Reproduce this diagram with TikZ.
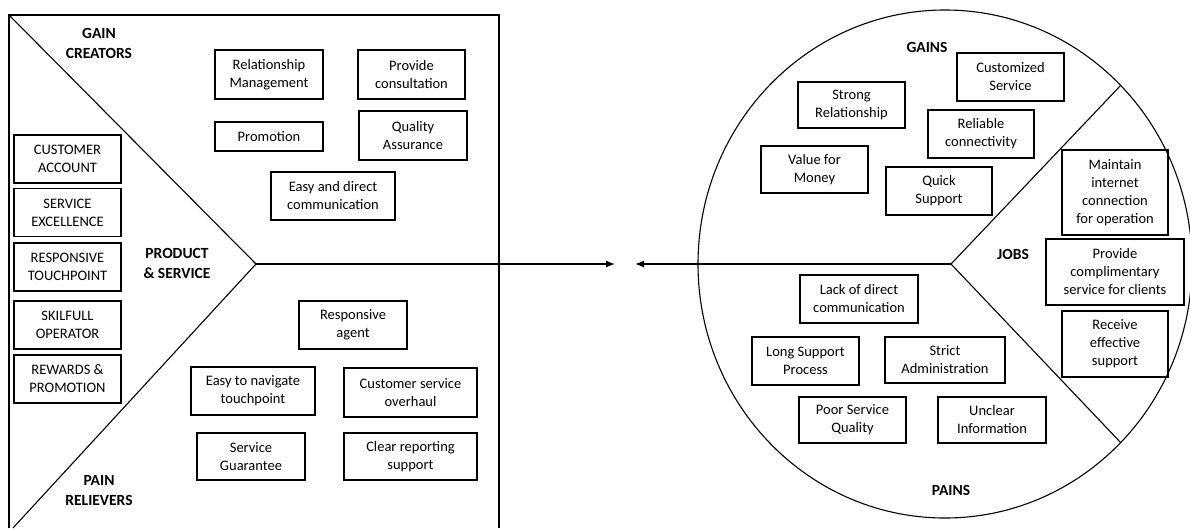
\documentclass[tikz,border=0pt]{standalone}
\usepackage{fontspec}
\setmainfont{Carlito}
\usetikzlibrary{arrows.meta,shapes.geometric}
\begin{document}
\begin{tikzpicture}[x=1pt,y=-1pt,
  line width=1.1pt,
  box/.style={draw, align=center, inner sep=1pt, line width=1.1pt,
    font=\fontsize{14.5}{18}\selectfont},
  lbl/.style={align=center, inner sep=0pt, font=\fontsize{15.5}{20}\selectfont\bfseries},
  arr/.style={-{Latex[length=9pt,width=7pt]}, line width=1.3pt}]
\useasboundingbox (0,0) rectangle (1190,528);
% value map frame
\coordinate (tl) at (9,15);
\coordinate (tr) at (499,15);
\coordinate (bl) at (9,528);
\coordinate (br) at (499,528);
\coordinate (v) at (256,264);
\coordinate (lb) at (13,528);
\draw (bl) -- (tl) -- (tr) -- (br);
\draw (tl) -- (v) -- (lb);
\coordinate (tipA) at (615,264);
\draw[arr] (v) -- (tipA);
% labels
\node[lbl] (gc) at (99,43) {GAIN\\CREATORS};
\node[lbl] (ps) at (177,263) {PRODUCT\\\& SERVICE};
\node[lbl] (pr) at (99,491) {PAIN\\RELIEVERS};
% products
\node[box, minimum width=107, minimum height=48] (p1) at (67.5,159) {CUSTOMER\\ACCOUNT};
\node[box, minimum width=107, minimum height=48] (p2) at (67.5,212.5) {SERVICE\\EXCELLENCE};
\node[box, minimum width=107, minimum height=48] (p3) at (67.5,267) {RESPONSIVE\\TOUCHPOINT};
\node[box, minimum width=107, minimum height=48] (p4) at (67.5,325) {SKILFULL\\OPERATOR};
\node[box, minimum width=107, minimum height=48] (p5) at (67.5,379) {REWARDS \&\\PROMOTION};
% gain creators
\node[box, minimum width=108, minimum height=49] (g1) at (269,74.5) {Relationship\\Management};
\node[box, minimum width=107, minimum height=49] (g2) at (411.5,74.5) {Provide\\consultation};
\node[box, minimum width=108, minimum height=29] (g3) at (269,136.5) {Promotion};
\node[box, minimum width=108, minimum height=49] (g4) at (413,135.5) {Quality\\Assurance};
\node[box, minimum width=124, minimum height=48] (g5) at (333,196) {Easy and direct\\communication};
% pain relievers
\node[box, minimum width=108, minimum height=48] (r1) at (353,325) {Responsive\\agent};
\node[box, minimum width=124, minimum height=48] (r2) at (253,391) {Easy to navigate\\touchpoint};
\node[box, minimum width=133, minimum height=49] (r3) at (410.5,392.5) {Customer service\\overhaul};
\node[box, minimum width=108, minimum height=47] (r4) at (251,456.5) {Service\\Guarantee};
\node[box, minimum width=133, minimum height=47] (r5) at (410.5,456.5) {Clear reporting\\support};
% customer profile
\node[ellipse, draw, line width=1.1pt, minimum width=494, minimum height=508, inner sep=0pt] (circ) at (945,264) {};
\coordinate (cv) at (951,264);
\coordinate (cup) at (1120.7,85.4);
\coordinate (clo) at (1120.7,442.6);
\coordinate (tipB) at (635,264);
\draw (circ.west) -- (cv);
\draw (cup) -- (cv) -- (clo);
\draw[arr] (circ.west) -- (tipB);
\node[lbl] (gn) at (927,47) {GAINS};
\node[lbl] (jb) at (1013,254) {JOBS};
\node[lbl] (pn) at (951,490) {PAINS};
% gains
\node[box, minimum width=107, minimum height=48] (a1) at (1010.5,77) {Customized\\Service};
\node[box, minimum width=107, minimum height=46] (a2) at (851.5,105) {Strong\\Relationship};
\node[box, minimum width=106, minimum height=48] (a3) at (981,134) {Reliable\\connectivity};
\node[box, minimum width=107, minimum height=47] (a4) at (814.5,169.5) {Value for\\Money};
\node[box, minimum width=106, minimum height=48] (a5) at (939,191) {Quick\\Support};
% jobs
\node[box, minimum width=106, minimum height=85] (j1) at (1115,192.5) {Maintain\\internet\\connection\\for operation};
\node[box, minimum width=138, minimum height=66] (j2) at (1115,272) {Provide\\complimentary\\service for clients};
\node[box, minimum width=106, minimum height=66] (j3) at (1115,344) {Receive\\effective\\support};
% pains
\node[box, minimum width=118, minimum height=48] (b1) at (859,299) {Lack of direct\\communication};
\node[box, minimum width=107, minimum height=48] (b2) at (805.5,361) {Long Support\\Process};
\node[box, minimum width=120, minimum height=46] (b3) at (945,360) {Strict\\Administration};
\node[box, minimum width=107, minimum height=46] (b4) at (852.5,420) {Poor Service\\Quality};
\node[box, minimum width=108, minimum height=46] (b5) at (992,420) {Unclear\\Information};
\end{tikzpicture}
\end{document}
